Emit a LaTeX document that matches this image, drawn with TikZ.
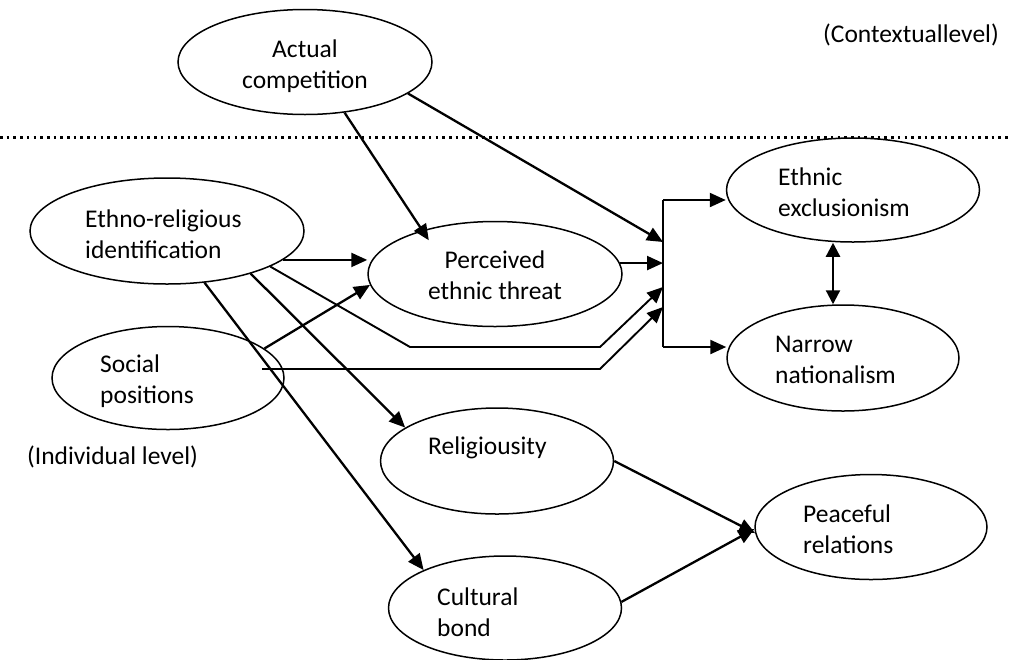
\documentclass[tikz,border=0pt]{standalone}
\usepackage{fontspec}
\setmainfont{Carlito}
\usepackage{tikz}
\usetikzlibrary{shapes.geometric}
\usetikzlibrary{arrows.meta}
\usetikzlibrary{calc}
\usetikzlibrary{positioning}
\newcommand\diagfont{\fontsize{25.5}{31}\selectfont}

\begin{document}
\begin{tikzpicture}[x=1pt, y=-1pt,
        var/.style={ellipse, draw, line width=1.5pt, inner sep=0pt},
        txt/.style={inner sep=0pt, align=left, anchor=west, font=\diagfont},
        arr/.style={line width=2.3pt, -{Triangle[length=16pt,width=14pt]}},
        link/.style={line width=1.9pt}]
        \useasboundingbox (0,0) rectangle (1011,659);
        \draw[line width=3pt, dash pattern=on 2.6pt off 4.1pt] (0,137) -- (1011,137);

        \node[var, minimum width=254pt, minimum height=105pt] (act) at (305,62) {};
        \node[var, minimum width=274pt, minimum height=106pt] (eth) at (167,231) {};
        \node[var, minimum width=232pt, minimum height=103pt] (soc) at (168,378) {};
        \node[var, minimum width=254pt, minimum height=105pt] (per) at (495,274) {};
        \node[var, minimum width=253pt, minimum height=104pt] (exc) at (853,190) {};
        \node[var, minimum width=232pt, minimum height=106pt] (nar) at (843,358) {};
        \node[var, minimum width=233pt, minimum height=106pt] (rel) at (497,461) {};
        \node[var, minimum width=233pt, minimum height=104pt] (cul) at (505,608) {};
        \node[var, minimum width=232pt, minimum height=105pt] (pea) at (871,527) {};

        \node[txt, align=center, anchor=center] (act-t) at (305,66) {Actual\\competition};
        \node[txt] (eth-t) at (85,234) {Ethno-religious\\identification};
        \node[txt] (soc-t) at (100,381) {Social\\positions};
        \node[txt, align=center, anchor=center] (per-t) at (495,275) {Perceived\\ethnic threat};
        \node[txt] (exc-t) at (778,192) {Ethnic\\exclusionism};
        \node[txt] (nar-t) at (775,360) {Narrow\\nationalism};
        \node[txt] (rel-t) at (428,448) {Religiousity};
        \node[txt] (cul-t) at (437,612) {Cultural\\bond};
        \node[txt] (pea-t) at (803,529) {Peaceful\\relations};
        \node[txt] (ctx) at (823,35) {(Contextuallevel)};
        \node[txt] (ind) at (27,457) {(Individual level)};

        \coordinate (jt) at (663,200);
        \coordinate (jb) at (663,347);
        \coordinate (j1) at (663,242);
        \coordinate (j3) at (663,287);
        \coordinate (j4) at (663,307);
        \coordinate (b1) at (410,347);
        \coordinate (b2) at (600,347);
        \coordinate (b3) at (600,369);

        \draw[arr, shorten >=-12pt] (act.-52) -- (per.149);
        \draw[arr] (act.-17) -- (j1);
        \draw[arr] (per.5) -- (per.5 -| jt);
        \draw[arr, line width=1.9pt] (eth.-19) -- (b1) -- (b2) -- (j3);
        \draw[arr, line width=1.9pt] ($(soc.center)+(94,-9)$) -- (b3) -- (j4);
        \draw[arr] (soc.17) -- (per.185);
        \draw[arr] (eth.-14) -- (eth.-14 -| per.west);
        \draw[arr] (eth.-27) -- (rel.160);
        \draw[arr] (eth.-54) -- (cul.155);
        \draw[arr] (rel.east) -- (pea.183);
        \draw[arr] (cul.3) -- (pea.181);
        \draw[line width=2.3pt, {Triangle[length=14pt,width=14pt]}-{Triangle[length=14pt,width=14pt]}]
            ([xshift=-20pt]exc.south) -- ([xshift=-10pt]nar.north);

        \draw[link] (jt) -- (jb);
        \draw[arr] (jt) -- (jt -| exc.west);
        \draw[arr] (jb) -- (jb -| nar.west);
    \end{tikzpicture}
\end{document}
